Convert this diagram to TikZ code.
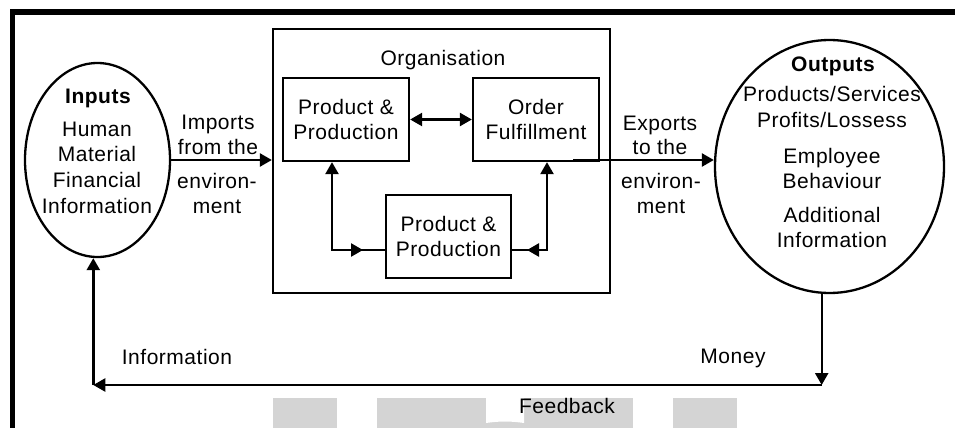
\documentclass[tikz,border=0pt]{standalone}
\usepackage{fontspec}
\setmainfont{Liberation Sans}[LetterSpace=2.5]
\usetikzlibrary{arrows.meta,calc,shapes.geometric}
\begin{document}
\begin{tikzpicture}[x=1pt,y=-1pt,
  every node/.style={font=\fontsize{21}{25.7}\selectfont},
  heading/.style={font=\fontsize{21}{25.7}\selectfont\bfseries},
  line/.style={line width=2.4pt},
  tipend/.style={-{Triangle[length=12pt,width=13pt]}},
  tipboth/.style={{Triangle[length=12pt,width=13pt]}-{Triangle[length=12pt,width=13pt]}},
  tipstart/.style={{Triangle[length=12pt,width=13pt]}-},
  box/.style={draw,line width=2.3pt,minimum width=126pt,minimum height=83pt,align=center,inner sep=0pt},
  blob/.style={draw,ellipse,line width=2.3pt,inner sep=0pt},
  txt/.style={anchor=base,inner sep=0pt},
  wm/.style={fill=black!17}]

\useasboundingbox (0,0) rectangle (955,428);

% light grey marks along the bottom edge
\fill[wm] (273,398) rectangle (337,428);
\fill[wm] (377,398) rectangle (633,428);
\fill[white] (486,398) -- (524,398) -- (524,423) .. controls (510,421) and (500,421) .. (486,423) -- cycle;
\fill[wm] (673,398) rectangle (737,428);

% frame on the top and left sides
\draw[line width=5.7pt] (12.5,428) -- (12.5,12.2) -- (955,12.2);

% inputs and outputs
\node[blob,minimum width=145pt,minimum height=194pt] (in) at (97.5,160) {};
\node[blob,minimum width=229pt,minimum height=253pt] (out) at (829.5,166.5) {};

\node[txt,heading] (inh) at (98,103) {Inputs};
\node[txt] (in1) at (97,136) {Human};
\node[txt] (in2) at (97,161.7) {Material};
\node[txt] (in3) at (97,187.4) {Financial};
\node[txt] (in4) at (97,213) {Information};

\node[txt,heading] (outh) at (833,71) {Outputs};
\node[txt] (out1) at (832,101) {Products/Services};
\node[txt] (out2) at (832,127) {Profits/Lossess};
\node[txt] (out3) at (832,163) {Employee};
\node[txt] (out4) at (832,188.5) {Behaviour};
\node[txt] (out5) at (832,222) {Additional};
\node[txt] (out6) at (832,247.5) {Information};

% organisation
\node[draw,line width=2.3pt,minimum width=337pt,minimum height=264pt,inner sep=0pt] (org) at (441.5,161) {};
\node[txt] (orgl) at (443,66) {Organisation};
\node[box] (pa) at (346,119.5) {Product \&\\Production};
\node[box] (of) at (536,119.5) {Order\\Fulfillment};
\node[box,minimum width=125pt] (pb) at (448.5,236.5) {Product \&\\Production};

\draw[line,tipboth] (pa.east) -- (of.east -| of.west);
\coordinate (lc) at (332,250);
\coordinate (rc) at (547,250);
\draw[line,tipstart] (pa.south -| lc) -- (lc) -- (lc -| pb.west);
\draw[line,tipend] (lc) -- ($(lc)+(31,0)$);
\draw[line,tipstart] (of.south -| rc) -- (rc) -- (rc -| pb.east);
\draw[line,tipend] (rc) -- ($(rc)+(-20,0)$);

% flows to and from the environment
\draw[line,tipend] (in.east) -- (in.east -| org.west);
\node[txt] (im1) at (218,129) {Imports};
\node[txt] (im2) at (218,154.5) {from the};
\node[txt] (im3) at (217,188) {environ-};
\node[txt] (im4) at (217,213) {ment};

\coordinate (xs) at (573,160);
\draw[line,tipend] (xs) -- (xs -| out.west);
\node[txt] (ex1) at (660,130) {Exports};
\node[txt] (ex2) at (660,154.5) {to the};
\node[txt] (ex3) at (661,188) {environ-};
\node[txt] (ex4) at (661,213) {ment};

% feedback loop
\coordinate (mt) at ($(out.south)+(-7.8,0)$);
\coordinate (fr) at (mt |- 0,385);
\coordinate (ib) at ($(in.south)+(-4.2,0)$);
\coordinate (fl) at (ib |- fr);
\draw[line,tipend] (mt) -- (fr);
\draw[line,tipend] (fr) -- (fl);
\draw[line,tipend] (fl) -- (ib);
\node[txt] (infol) at (177,364) {Information};
\node[txt] (money) at (733,363) {Money};
\node[txt] (fb) at (567,413) {Feedback};
\end{tikzpicture}
\end{document}
